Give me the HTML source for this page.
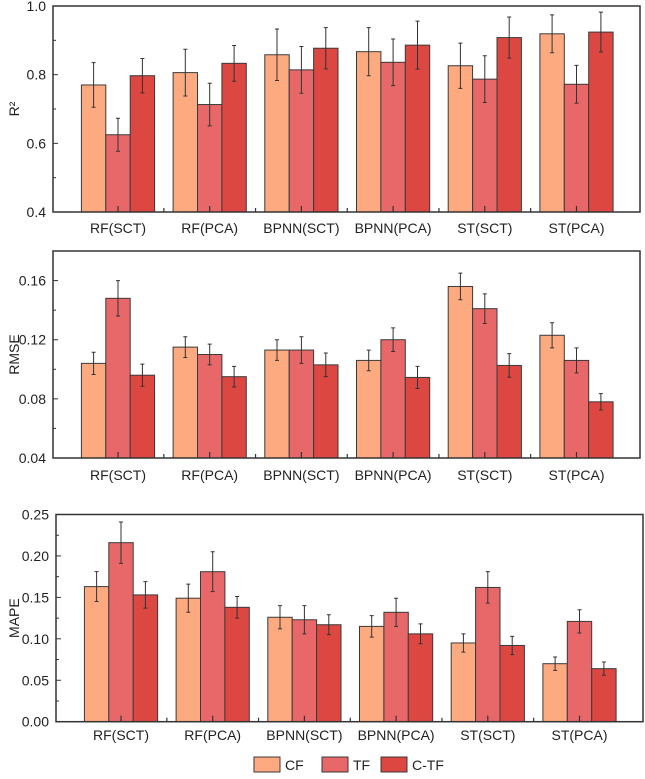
<!DOCTYPE html>
<html><head><meta charset="utf-8"><style>
body{margin:0;background:#fff;}
svg text{font-family:"Liberation Sans",Arial,sans-serif;fill:#222;}
</style></head><body>
<svg id="chart" width="645" height="774" xmlns="http://www.w3.org/2000/svg"></svg>
<script>
const categories = ["RF(SCT)","RF(PCA)","BPNN(SCT)","BPNN(PCA)","ST(SCT)","ST(PCA)"];
const seriesNames = ["CF","TF","C-TF"];
const r2CF = [0.770,0.806,0.858,0.867,0.826,0.919];
const r2TF = [0.625,0.713,0.814,0.836,0.787,0.772];
const r2CTF = [0.797,0.833,0.877,0.886,0.908,0.924];
const r2ErrCF = [0.065,0.068,0.075,0.070,0.066,0.055];
const r2ErrTF = [0.048,0.062,0.068,0.068,0.068,0.055];
const r2ErrCTF = [0.050,0.052,0.060,0.070,0.060,0.058];
const rmseCF = [0.104,0.115,0.113,0.106,0.156,0.123];
const rmseTF = [0.148,0.110,0.113,0.120,0.141,0.106];
const rmseCTF = [0.096,0.095,0.103,0.0945,0.1026,0.078];
const rmseErrCF = [0.0075,0.007,0.007,0.007,0.009,0.0085];
const rmseErrTF = [0.012,0.007,0.009,0.008,0.010,0.0085];
const rmseErrCTF = [0.0075,0.007,0.008,0.0075,0.008,0.0055];
const mapeCF = [0.163,0.149,0.126,0.115,0.095,0.070];
const mapeTF = [0.216,0.181,0.123,0.132,0.162,0.121];
const mapeCTF = [0.153,0.138,0.117,0.106,0.092,0.064];
const mapeErrCF = [0.018,0.017,0.014,0.013,0.011,0.008];
const mapeErrTF = [0.025,0.024,0.017,0.017,0.019,0.014];
const mapeErrCTF = [0.016,0.013,0.012,0.012,0.011,0.008];
const r2Ticks = ["0.4","0.6","0.8","1.0"];
const rmseTicks = ["0.04","0.08","0.12","0.16"];
const mapeTicks = ["0.00","0.05","0.10","0.15","0.20","0.25"];

const colors = ["#fdaa80","#e8686a","#dc4742"];
const NS = "http://www.w3.org/2000/svg";
const svg = document.getElementById('chart');
function mk(tag, attrs, parent){
  const e = document.createElementNS(NS, tag);
  for (const k in attrs) e.setAttribute(k, attrs[k]);
  (parent||svg).appendChild(e); return e;
}

function panel(cfg){
  const g = mk('g', {});
  
  
  const {left,right,top,bottom,min,max} = cfg;
  const y = v => bottom - (v-min)/(max-min)*(bottom-top);
  const groupW = 91.7, firstC = left + 65;
  const xc = i => firstC + i*groupW;
  const bw = 24.4;
  const step = parseFloat(cfg.ticks[1]) - parseFloat(cfg.ticks[0]);
  for (let i=0;i<cfg.ticks.length;i++){
    const v = parseFloat(cfg.ticks[i]);
    mk('line',{x1:left,x2:left+5,y1:y(v),y2:y(v),stroke:'#333','stroke-width':1},g);
    const mv = v + step/2;
    if (mv < max) mk('line',{x1:left,x2:left+3,y1:y(mv),y2:y(mv),stroke:'#333','stroke-width':1},g);
    const t = mk('text',{x:left-7,y:y(v)+5,'text-anchor':'end','font-size':14},g);
    t.textContent = cfg.ticks[i];
    
    
  }
  for (let i=0;i<categories.length;i++){
    for (let s=0;s<3;s++){
      const v = cfg.vals[s][i], e = cfg.errs[s][i];
      const x0 = xc(i) - 1.5*bw + s*bw;
      const r = mk('rect',{x:x0,y:y(v),width:bw,height:bottom-y(v),fill:colors[s],stroke:'#3a3a3a','stroke-width':1},g);
      
      
      const cx = x0 + bw/2;
      const eb = mk('path',{d:`M${cx},${y(v+e)}V${y(v-e)}M${cx-2},${y(v+e)}H${cx+2}M${cx-2},${y(v-e)}H${cx+2}`,stroke:'#333','stroke-width':1,fill:'none'},g);
      
      
    }
    mk('line',{x1:xc(i),x2:xc(i),y1:bottom,y2:bottom-6,stroke:'#333','stroke-width':1.2},g);
    if (i>0) mk('line',{x1:xc(i)-groupW/2,x2:xc(i)-groupW/2,y1:bottom,y2:bottom-4,stroke:'#333','stroke-width':1.2},g);
    const t = mk('text',{x:xc(i),y:cfg.labelY,'text-anchor':'middle','font-size':14},g);
    t.textContent = categories[i];
    
    
  }
  mk('rect',{x:left,y:top,width:right-left,height:bottom-top,fill:'none',stroke:'#333','stroke-width':1.5},g);
  const cy = (top+bottom)/2;
  const at = mk('text',{x:0,y:0,'text-anchor':'middle','font-size':14,transform:`translate(${cfg.titleX},${cy}) rotate(-90)`},g);
  at.textContent = cfg.title;
  
  
}

panel({name:'r2',left:53,right:640,top:6,bottom:212,min:0.4,max:1.0,ticks:r2Ticks,
  vals:[r2CF,r2TF,r2CTF],errs:[r2ErrCF,r2ErrTF,r2ErrCTF],labelY:233,title:'R²',titleX:19});
panel({name:'rmse',left:53,right:640,top:251,bottom:458,min:0.04,max:0.18,ticks:rmseTicks,
  vals:[rmseCF,rmseTF,rmseCTF],errs:[rmseErrCF,rmseErrTF,rmseErrCTF],labelY:480,title:'RMSE',titleX:19});
panel({name:'mape',left:56,right:643,top:514.5,bottom:721.7,min:0,max:0.25,ticks:mapeTicks,
  vals:[mapeCF,mapeTF,mapeCTF],errs:[mapeErrCF,mapeErrTF,mapeErrCTF],labelY:740,title:'MAPE',titleX:19});

const legend = mk('g',{});


const lx = [254, 322, 381];
for (let s=0;s<3;s++){
  const item = mk('g',{},legend);
  
  
  mk('rect',{x:lx[s],y:757,width:26,height:15,fill:colors[s],stroke:'#3a3a3a','stroke-width':1},item);
  const t = mk('text',{x:lx[s]+31,y:770,'font-size':14},item);
  t.textContent = seriesNames[s];
}
</script>
</body></html>
